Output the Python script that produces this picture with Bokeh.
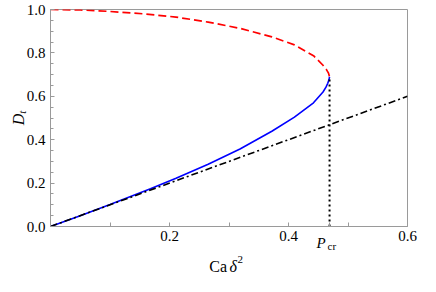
import math
from bokeh.plotting import figure
from bokeh.models import FixedTicker, Label, Range1d
from bokeh.embed import file_html
from bokeh.resources import INLINE

# ---- data ----
P_cr = 0.469
D_tip = 0.69

upper_x = [0.0, 0.05, 0.10, 0.157, 0.211, 0.265, 0.3185, 0.372, 0.41, 0.442, 0.458, 0.464, 0.467, P_cr]
upper_y = [1.0, 0.998, 0.991, 0.980, 0.965, 0.942, 0.913, 0.874, 0.837, 0.787, 0.743, 0.722, 0.708, D_tip]

lower_x = [0.0, 0.05, 0.10, 0.168, 0.211, 0.265, 0.3185, 0.372, 0.41, 0.442, 0.458, 0.463, 0.466, 0.468, P_cr]
lower_y = [0.0, 0.050, 0.101, 0.174, 0.222, 0.287, 0.357, 0.439, 0.504, 0.570, 0.620, 0.642, 0.660, 0.676, D_tip]

linear_x = [0.0, 0.6]
linear_y = [0.0, 0.6]

x_ticks = [0.2, 0.4, P_cr, 0.6]
x_tick_labels = ["0.2", "0.4", "", "0.6"]
x_minor = [0.1, 0.3, 0.5]
y_ticks = [0.0, 0.2, 0.4, 0.6, 0.8, 1.0]
y_tick_labels = ["0.0", "0.2", "0.4", "0.6", "0.8", "1.0"]
y_minor = [0.05, 0.1, 0.15, 0.25, 0.3, 0.35, 0.45, 0.5, 0.55, 0.65, 0.7, 0.75, 0.85, 0.9, 0.95]

FONT = "Liberation Serif"
AX = "#9a9a9a"

p = figure(width=420, height=276, output_backend="svg", toolbar_location=None,
           x_range=Range1d(0, 0.6), y_range=Range1d(0, 1.0),
           min_border_left=50, min_border_right=11, min_border_top=9, min_border_bottom=50)
p.background_fill_color = "white"
p.border_fill_color = "white"
p.outline_line_color = AX
p.outline_line_width = 1
p.xgrid.visible = False
p.ygrid.visible = False

xa = p.xaxis[0]
ya = p.yaxis[0]
for ax in (xa, ya):
    ax.axis_line_color = AX
    ax.major_tick_line_color = AX
    ax.minor_tick_line_color = AX
    ax.major_tick_out = 0
    ax.minor_tick_out = 0
    ax.major_label_text_font = FONT
    ax.major_label_text_font_size = "15px"
    ax.major_label_text_color = "black"

xa.ticker = FixedTicker(ticks=x_ticks, minor_ticks=x_minor)
xa.major_label_overrides = dict(zip(x_ticks, x_tick_labels))
xa.major_label_standoff = 4
xa.major_tick_in = 4
xa.minor_tick_in = 4
ya.ticker = FixedTicker(ticks=y_ticks, minor_ticks=y_minor)
ya.major_label_overrides = dict(zip(y_ticks, y_tick_labels))
ya.major_label_standoff = 5
ya.major_tick_in = 4
ya.minor_tick_in = 3

# curves
p.line(upper_x, upper_y, line_color="#ff0000", line_width=1.7, line_dash="8 4")
p.line(lower_x, lower_y, line_color="#0000ff", line_width=1.6)
p.line(linear_x, linear_y, line_color="black", line_width=1.6, line_dash="7 3 2 3")
p.line([P_cr, P_cr], [0.0, D_tip], line_color="black", line_width=2, line_dash="2 3")

# labels (mixed italic / sub / superscript); placed in side panels so they are not clipped
def lab(text, x, y, size, side, style="normal", align="left", angle=0.0, xo=0, yo=0):
    p.add_layout(Label(x=x, y=y, text=text, text_font=FONT, text_font_size=size,
                       text_font_style=style, text_align=align, text_baseline="alphabetic",
                       angle=angle, x_offset=xo, y_offset=yo, text_color="black"), side)

# x tick label P_cr
lab("P", P_cr, 0.0, "15px", "left", style="italic", align="right", xo=-4, yo=-16)
lab("cr", P_cr, 0.0, "11px", "left", align="left", xo=-2, yo=-19)

# x axis label: Ca δ²
lab("Ca", 0.267, 0.0, "16px", "below", yo=-40)
lab("δ", 0.301, 0.0, "16px", "right", style="italic", yo=-40)
lab("2", 0.301, 0.0, "11px", "right", xo=8, yo=-33)

# y axis label: D_t (rotated)
lab("D", -0.0534, 0.467, "16px", "below", style="italic", angle=math.pi / 2)
lab("t", -0.0534, 0.467, "11px", "above", style="italic", angle=math.pi / 2, xo=3, yo=11.5)

open("out.html", "w").write(file_html(p, INLINE))
